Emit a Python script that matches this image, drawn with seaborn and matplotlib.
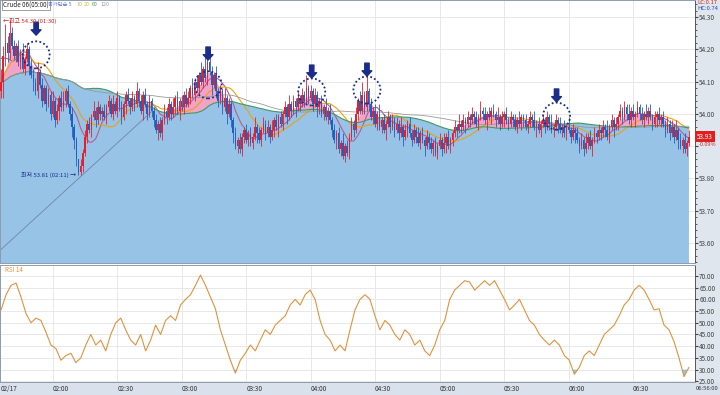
import numpy as np
import pandas as pd
import seaborn as sns
import matplotlib.pyplot as plt
from matplotlib.ticker import FormatStrFormatter, MultipleLocator

sns.set_style("white")
plt.rcParams['font.family'] = ['Noto Sans CJK KR', 'DejaVu Sans']
plt.rcParams['axes.unicode_minus'] = False

# 1-minute closes in cents above 53.00 (bars before 01:36 sit left of the window)
pre_closes_c = [92, 95, 94, 98, 101, 100, 104, 108, 107, 112,
                118, 117, 122, 121, 128, 124, 119, 114, 110, 107]
closes_c = [
    110, 118, 122, 119, 125, 121,
    118, 121, 116, 119, 114, 117, 120, 115, 112,
    110, 107, 113, 109, 104, 108,
    103, 106, 100, 104, 98, 101, 105, 102,
    104, 107, 103, 100, 96,
    92, 86, 82, 84,
    88, 93, 97, 95, 99, 101, 98, 102, 100,
    101, 99, 102, 104, 100, 103, 101, 105, 102, 99, 103, 106, 104, 102,
    105, 103, 107, 104, 101, 106, 103, 100, 104, 101,
    98, 95, 97, 94, 98,
    101, 99, 103, 100, 102, 105, 101, 104, 102, 106, 103,
    105, 108, 106, 110, 108, 112, 110, 114, 111, 116, 113, 109, 112, 107,
    104, 107, 102, 105, 100, 103, 98,
    94, 90, 92, 89, 93,
    95, 92, 94, 91, 93, 96, 94, 92, 95, 97, 94, 96, 93, 95, 98, 96, 99, 97,
    100, 102, 99, 103, 101, 104, 102, 105, 103,
    106, 104, 108, 105, 107, 103, 106, 102,
    104, 100, 102, 99, 101, 98,
    95, 92, 94, 89, 91, 87, 90, 88,
    93, 97, 95, 100, 104, 101,
    106, 102, 107, 103, 99,
    101, 97, 100, 96, 98, 95, 97, 99,
    96, 98, 95, 97, 94, 96, 93, 95, 97, 94, 92, 95, 93, 91, 94, 92, 90, 93, 91, 89,
    91, 88, 90, 92, 89, 91, 93, 90, 92,
    94, 96, 95, 97, 96, 98, 97, 99, 98, 100, 99, 97, 99, 101, 100, 98, 100, 99,
    101, 100, 98, 99, 97, 99, 100, 98, 97, 99, 98, 96, 98, 97, 99,
    98, 96, 97, 99, 98, 96, 97, 95, 97, 98, 96, 99, 97, 95, 96, 98, 97, 95,
    96, 94, 96, 95, 93, 95, 94, 92,
    90, 92, 89, 91, 93, 90, 92, 94, 93, 95,
    94, 96, 95, 93, 96, 98, 96, 97, 99,
    101, 99, 102, 100, 98, 101, 99, 100, 102, 100, 98, 100, 99, 101, 99, 97, 99,
    100, 98, 99, 97,
    95, 97, 94, 96, 93, 95, 92, 90, 92, 89, 91, 93,
]
# upper / lower shadows in cents, one digit per bar
wick_up_c = [int(c) for c in "".join([
    "436242", "212131212", "213121", "12131212", "31212", "1102", "121213121",
    "12121312121121", "2131212121", "12121", "21213121212", "21312141413213",
    "1213121", "12121", "121213121212131212", "121312121", "21412121", "121312",
    "12121312", "121213", "41512", "12131212", "12121312121213121212",
    "121213121", "121312121212131212121312121212131", "121213121212131212",
    "12131212", "1213121212", "121312121", "212131212121312121212",
    "121213121212"])]
wick_dn_c = [int(c) for c in "".join([
    "253321", "121212131", "312121", "21212131", "12123", "3211", "212121212",
    "21211212121312", "1212131212", "21312", "12121213121", "12121212121312",
    "2121312", "31212", "212121312121212131", "212121312", "12121213", "212121",
    "21312121", "212121", "12121", "21212131", "21212131212121213121",
    "212121312", "212121312121212131212121312121212", "212121312121212131",
    "21212131", "2121213121", "212121312", "121212131212121213121",
    "212121312121"])]

# RSI(14), evenly spaced across the session
rsi_vals = [
    55.5, 62, 66, 67, 61, 54, 50, 52, 51, 46, 40.5, 39, 34, 36, 37, 33, 35, 40.5,
    45, 40.5, 42.6, 38, 45, 50, 52, 47, 42.6, 40.5, 45, 38, 42.6, 49, 45, 51, 53,
    51, 57.6, 60, 62, 66, 70.4, 66, 61, 56, 47, 40.5, 34, 28.5, 34, 37, 40.5, 38,
    42.6, 47, 45, 49, 51, 53, 57.6, 60, 57.6, 62, 64, 60, 51, 45, 42.6, 38, 40.5,
    38, 47, 55.5, 60, 62, 60, 53, 47, 51, 49, 45, 42.6, 47, 45, 40.5, 42.6, 38,
    36, 40.5, 47, 51, 60, 64, 66, 68, 67.4, 64, 66, 68, 66, 68, 64, 60, 55.5,
    57.6, 60, 55.5, 51, 49, 45, 42.6, 40.5, 42.6, 40.5, 36, 34, 28, 31, 36, 38,
    36, 40.5, 45, 47, 49, 53, 57.6, 60, 64, 66, 64, 60, 55.5, 56, 49, 47, 42,
    35, 27, 31,
]

start_time = "2017-02-17 01:36"
time_labels = ["02:00", "02:30", "03:00", "03:30", "04:00",
               "04:30", "05:00", "05:30", "06:00", "06:30"]
price_ticks = [53.60, 53.70, 53.80, 53.90, 54.00, 54.10, 54.20, 54.30]
rsi_ticks = [25, 30, 35, 40, 45, 50, 55, 60, 65, 70]
ma_periods = [5, 10, 20, 60, 120]
ma_colors = ['#5b7fd6', '#b3608f', '#e8a312', '#3f9a5c', '#9a9a9a']

# hand-drawn trend line (bar, price)
trend_bars = [0, 70]
trend_prices = [53.58, 54.007]
# arrows and dotted circles marking the peaks (bar, price)
mark_bars = [16.3, 96.3, 144.5, 170.2, 258.4]
arrow_tips = [54.244, 54.167, 54.111, 54.117, 54.037]
circle_prices = [54.183, 54.090, 54.068, 54.074, 53.993]

# ---- derived series
n_pre = len(pre_closes_c)
n = len(closes_c)
all_c = np.array(pre_closes_c + closes_c)
df = pd.DataFrame({'bar': np.arange(-n_pre, n), 'close': 53 + all_c / 100})
for p in ma_periods:
    df[f'ma{p}'] = df['close'].rolling(p, min_periods=1).mean()

rsi = pd.DataFrame({'bar': np.linspace(0, n - 1, len(rsi_vals)), 'rsi': rsi_vals})

close = 53 + np.array(closes_c) / 100
opens = 53 + np.array([pre_closes_c[-1]] + closes_c[:-1]) / 100
high = np.maximum(opens, close) + np.array(wick_up_c) / 100
low = np.minimum(opens, close) - np.array(wick_dn_c) / 100
bars = np.arange(n)
times = pd.date_range(start_time, periods=n, freq="min")
tick_pos = [int(np.where(times.strftime('%H:%M') == t)[0][0]) for t in time_labels]
last = close[-1]

# ---- figure
W, H = 720, 395
fig = plt.figure(figsize=(7.2, 3.95), dpi=100)
fig.patch.set_facecolor('white')


def px_axes(x0, y0, x1, y1):
    return fig.add_axes([x0 / W, 1 - y1 / H, (x1 - x0) / W, (y1 - y0) / H])


def ftext(x, y, s, **kw):
    fig.text(x / W, 1 - y / H, s, **kw)


fig.patches.append(plt.Rectangle((695 / W, 0), 25 / W, 1, transform=fig.transFigure,
                                 color='#dfe6ee', zorder=-10))
fig.patches.append(plt.Rectangle((0, 0), 1, 13 / H, transform=fig.transFigure,
                                 color='#d9e2ec', zorder=-10))

ax = px_axes(0, 0, 695, 263)
ax2 = px_axes(0, 265, 695, 382)
xlim = (-0.5, 322.8)

# main price panel
ax.set_xlim(xlim)
ax.set_ylim(53.538, 54.353)
ax.fill_between(df['bar'], 53.0, df['ma60'], color='#97c3e7', lw=0, zorder=1)
ax.fill_between(df['bar'], df['ma5'], df['ma60'], where=df['ma5'] > df['ma60'],
                interpolate=True, color='#f1a4c8', lw=0, zorder=1.5)
for p, col in zip(ma_periods[1:], ma_colors[1:]):
    sns.lineplot(data=df, x='bar', y=f'ma{p}', ax=ax, color=col,
                 lw=0.8 if p != 120 else 0.6, zorder=2)
sns.lineplot(x=trend_bars, y=trend_prices, ax=ax, color='#6f86a8', lw=0.6, zorder=2)

up = close >= opens
cols = np.where(up, '#e3202b', '#1f5fc4')
ax.vlines(bars, low, high, colors=cols, lw=0.6, zorder=3)
ax.bar(bars, np.maximum(np.abs(close - opens), 0.0025), bottom=np.minimum(opens, close),
       width=0.75, color=cols, lw=0, zorder=3)

navy = '#1b2d8a'
for b, tip in zip(mark_bars, arrow_tips):
    ax.annotate('', xy=(b, tip), xytext=(0, 13), textcoords='offset pixels',
                arrowprops=dict(arrowstyle='simple,head_length=0.55,head_width=1.0,tail_width=0.45',
                                color=navy, mutation_scale=7, shrinkA=0, shrinkB=0), zorder=5)
ax.scatter(mark_bars, circle_prices, s=380, facecolors='none', edgecolors=navy,
           linewidths=1.3, linestyles=(0, (1, 1.3)), zorder=5)

ax.text(1.0, 54.288, '←최고 54.30 (01:30)', color='#d42020', fontsize=4.3, va='center', zorder=5)
ax.text(35.0, 53.812, '최저 53.81 (02:11) →', color=navy, fontsize=4.3, va='center',
        ha='right', zorder=5)

# the current-price box takes the place of the nearest tick label
ax.set_yticks(price_ticks)
ax.set_yticklabels(['' if abs(t - last) < 0.035 else f'{t:.2f}' for t in price_ticks])
ax.yaxis.tick_right()
ax.yaxis.set_minor_locator(MultipleLocator(0.02))
ax.set_xticks(tick_pos)
ax.tick_params(axis='x', labelbottom=False, length=0)
ax.tick_params(axis='y', which='major', labelsize=4.6, length=2, pad=1, colors='#444')
ax.tick_params(axis='y', which='minor', length=1.2, color='#444', right=True)
ax.grid(True, color='#e4e4e4', lw=0.6)
ax.set_axisbelow(True)
ax.set_xlabel('')
ax.set_ylabel('')

ax.text(1.003, last, f'{last:.2f}', transform=ax.get_yaxis_transform(), color='white',
        fontsize=4.6, va='center', ha='left', clip_on=False, zorder=6,
        bbox=dict(boxstyle='square,pad=0.3', fc='#e0201f', ec='none'))
ax.text(1.006, last - 0.024, '-0.09%', transform=ax.get_yaxis_transform(), color='#d42020',
        fontsize=4.0, va='center', ha='left', clip_on=False)

# RSI panel
ax2.set_xlim(xlim)
ax2.set_ylim(24.7, 74.7)
ax2.fill_between(rsi['bar'], rsi['rsi'], 30, where=rsi['rsi'] < 30, interpolate=True,
                 color='#8fc4ea', lw=0, zorder=1)
sns.lineplot(data=rsi, x='bar', y='rsi', ax=ax2, color='#e0923f', lw=0.8, zorder=2)
ax2.set_yticks(rsi_ticks)
ax2.yaxis.tick_right()
ax2.yaxis.set_major_formatter(FormatStrFormatter('%.2f'))
ax2.tick_params(axis='y', labelsize=4.6, length=2, pad=1, colors='#444')
date_lbl = pd.Timestamp(start_time).strftime('%m/%d')
ax2.set_xticks([-0.3] + tick_pos)
ax2.set_xticklabels([date_lbl] + time_labels)
for lbl in ax2.get_xticklabels():
    lbl.set_ha('left')
ax2.tick_params(axis='x', labelsize=4.6, length=11, pad=-9, direction='out',
                color='#7a8796', colors='#333')
ax2.grid(True, color='#e4e4e4', lw=0.6)
ax2.set_axisbelow(True)
ax2.set_xlabel('')
ax2.set_ylabel('')

for a in (ax, ax2):
    for s in a.spines.values():
        s.set_color('#8d9bb0')
        s.set_linewidth(0.7)
    a.spines['right'].set_color('#555')

# header texts
ftext(3, 5, 'Crude 06(05:00)', fontsize=4.5, va='center', color='#222',
      bbox=dict(boxstyle='square,pad=0.2', fc='white', ec='#777', lw=0.5))
legend_parts = [('종가단순 5', 48, ma_colors[0]), ('10', 76, '#e59a70'), ('20', 84, '#d8b820'),
                ('60', 92, ma_colors[3]), ('120', 100, ma_colors[4])]
for txt, x, col in legend_parts:
    ftext(x, 5, txt, fontsize=3.8, va='center', color=col)
ftext(697, 3, 'LC:0.17', fontsize=4.2, va='center', color='#d42020')
ftext(697, 9, 'HC:0.74', fontsize=4.2, va='center', color='#1f4fb0')
ftext(5, 270, 'RSI 14', fontsize=4.5, va='center', color='#e0923f')
ftext(696, 389, times[-1].strftime('%H:%M:%S'), fontsize=4.2, va='center', color='#333')

fig.savefig('out.png', dpi=100)
